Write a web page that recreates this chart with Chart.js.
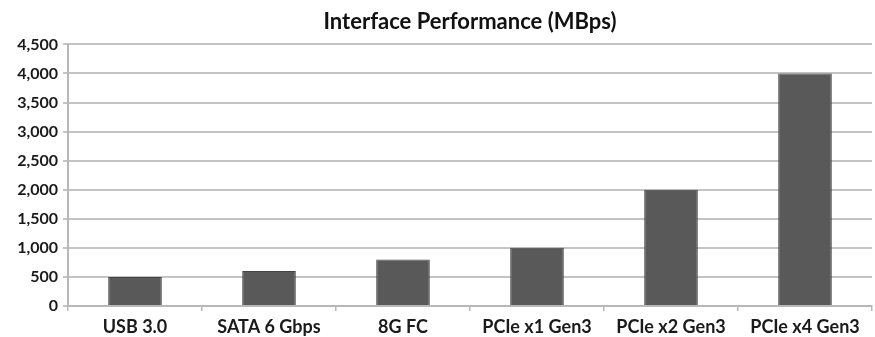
<!DOCTYPE html>
<html>
<head>
<meta charset="utf-8">
<script src="https://cdn.jsdelivr.net/npm/chart.js@4.4.0/dist/chart.umd.min.js"></script>
<style>
  html, body { margin: 0; padding: 0; background: #fff; }
  #wrap { width: 875px; height: 337px; }
</style>
</head>
<body>
<div id="wrap"><canvas id="grafico"></canvas></div>
<script>
// dados
const interfaces = ['USB 3.0', 'SATA 6 Gbps', '8G FC', 'PCIe x1 Gen3', 'PCIe x2 Gen3', 'PCIe x4 Gen3'];
const mbps = [500, 600, 800, 1000, 2000, 4000];

new Chart(document.getElementById('grafico'), {
  type: 'bar',
  data: {
    labels: interfaces,
    datasets: [{
      label: 'MBps',
      data: mbps,
      backgroundColor: '#595959',
      borderColor: '#444444',
      borderWidth: 1,
      categoryPercentage: 1,
      barPercentage: 0.4
    }]
  },
  options: {
    responsive: true,
    maintainAspectRatio: false,
    animation: false,
    layout: { padding: { left: 0, right: 3, top: 0, bottom: 0 } },
    plugins: {
      legend: { display: false },
      tooltip: { enabled: false },
      title: {
        display: true,
        fullSize: false,
        text: 'Interface Performance (MBps)',
        color: '#111',
        font: { family: 'Lato', size: 22, weight: 'bold' },
        padding: { top: 9, bottom: 9 }
      }
    },
    scales: {
      x: {
        grid: { drawOnChartArea: false, drawTicks: true, tickLength: 5, color: '#b8b8b8', lineWidth: 1.5 },
        border: { color: '#b8b8b8', width: 2 },
        ticks: { color: '#1a1a1a', font: { family: 'Lato', size: 18, weight: 'bold' }, padding: 5, maxRotation: 0 },
        afterFit: s => { s.height = 31; }
      },
      y: {
        min: 0,
        max: 4500,
        grid: { color: '#c4c4c4', lineWidth: 2, tickLength: 5 },
        border: { color: '#b8b8b8', width: 2 },
        ticks: {
          stepSize: 500,
          color: '#1a1a1a',
          font: { family: 'Lato', size: 16, weight: 'bold' },
          padding: 5,
          callback: v => v.toLocaleString('en-US')
        },
        afterFit: s => { s.width = 68; }
      }
    }
  }
});
</script>
</body>
</html>
